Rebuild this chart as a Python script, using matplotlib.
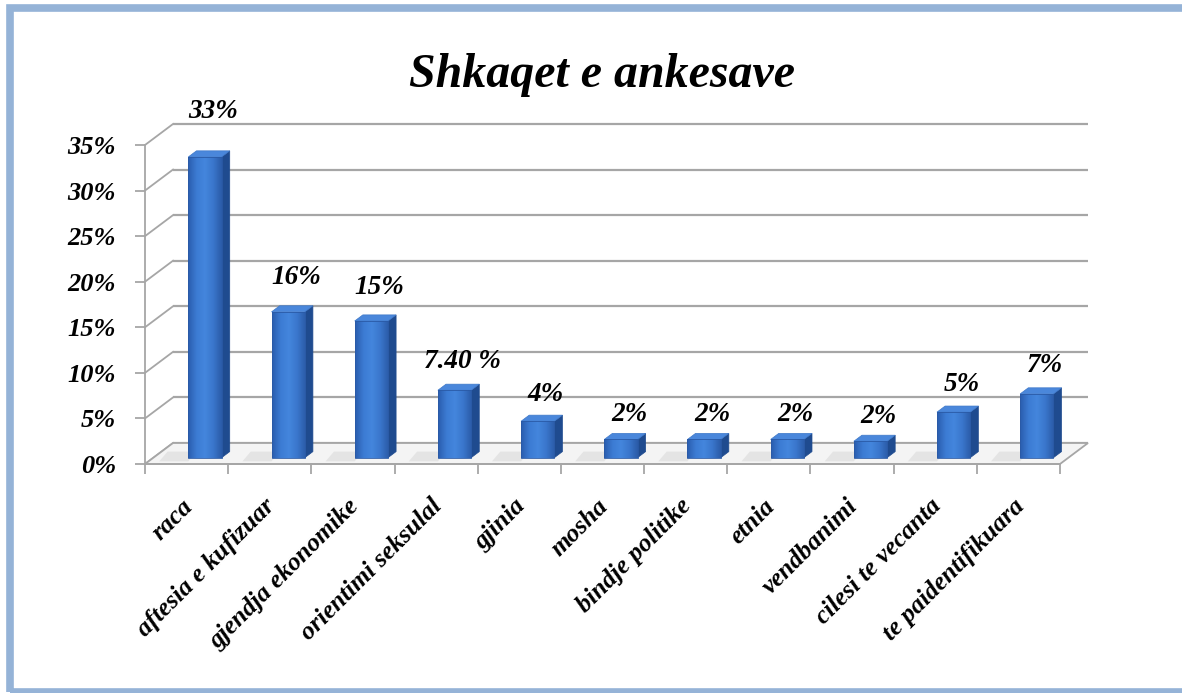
import matplotlib
matplotlib.use("Agg")
import matplotlib.pyplot as plt
import numpy as np
from matplotlib.patches import Polygon, Rectangle
from matplotlib.colors import LinearSegmentedColormap
from matplotlib.transforms import ScaledTranslation

title = "Shkaqet e ankesave"
categories = ["raca", "aftesia e kufizuar", "gjendja ekonomike", "orientimi seksulal",
              "gjinia", "mosha", "bindje politike", "etnia", "vendbanimi",
              "cilesi te vecanta", "te paidentifikuara"]
values = [0.33, 0.16, 0.15, 0.074, 0.04, 0.02, 0.02, 0.02, 0.018, 0.05, 0.07]
value_labels = ["33%", "16%", "15%", "7.40 %", "4%", "2%", "2%", "2%", "2%", "5%", "7%"]
yticks = [0, 0.05, 0.10, 0.15, 0.20, 0.25, 0.30, 0.35]
ytick_labels = ["0%", "5%", "10%", "15%", "20%", "25%", "30%", "35%"]

W, H = 1182, 693
fig = plt.figure(figsize=(W / 100, H / 100), dpi=100)
fig.patch.set_facecolor("white")

FONT = "Liberation Serif"

# border
fig.patches.append(Rectangle((10 / W, 1 - 692 / H), (1200 - 10) / W, (692 - 8) / H,
                             transform=fig.transFigure, fill=False,
                             edgecolor="#95B3D7", linewidth=5.5, zorder=0))

# front axes region in pixels
L, R, T, B = 145, 1060, 145, 464
ax = fig.add_axes([L / W, 1 - B / H, (R - L) / W, (B - T) / H])
ax.set_xlim(-0.5, len(categories) - 0.5)
ax.set_ylim(0, 0.35)
ax.patch.set_alpha(0)

px_x = (len(categories)) / (R - L)
px_y = 0.35 / (B - T)
DX = 28 * px_x
DY = 21 * px_y

grid_col = "#A6A6A6"
x0, x1 = -0.5, len(categories) - 0.5

# floor
floor = Polygon([(x0, 0), (x1, 0), (x1 + DX, DY), (x0 + DX, DY)], closed=True,
                facecolor="#F4F4F4", edgecolor=grid_col, linewidth=1.3,
                clip_on=False, zorder=1)
ax.add_patch(floor)

for v in yticks:
    ax.plot([x0 + DX, x1 + DX], [v + DY, v + DY], color=grid_col, lw=1.6,
            clip_on=False, zorder=0.5, solid_capstyle="butt")
    ax.plot([x0, x0 + DX], [v, v + DY], color=grid_col, lw=1.3,
            clip_on=False, zorder=0.5)

# bars
F0, F1 = 0.30, 0.59
BW = 0.40
front_cmap = LinearSegmentedColormap.from_list(
    "front", ["#2A5DAE", "#3C7BD3", "#4486DD", "#3A76CC", "#2B5CA8"])
grad = np.linspace(0, 1, 64).reshape(1, -1)
for i, v in enumerate(values):
    cx = i + F0 * DX + 0.12
    by = F0 * DY
    left = cx - BW / 2
    right = cx + BW / 2
    ddx = (F1 - F0) * DX
    ddy = (F1 - F0) * DY
    # floor shadow
    shadow = Polygon([(left - 0.35, by - 0.004), (left, by - 0.004), (left + ddx, by + ddy),
                      (left - 0.25, by + ddy)], closed=True, facecolor="#DADADA",
                     edgecolor="none", alpha=0.6, clip_on=False, zorder=1.5)
    ax.add_patch(shadow)
    # side face
    side = Polygon([(right, by), (right + ddx, by + ddy), (right + ddx, by + ddy + v),
                    (right, by + v)], closed=True, facecolor="#1F4B8F",
                   edgecolor="#1F4B8F", lw=0.5, clip_on=False, zorder=3)
    ax.add_patch(side)
    # top face
    top = Polygon([(left, by + v), (right, by + v), (right + ddx, by + v + ddy),
                   (left + ddx, by + v + ddy)], closed=True, facecolor="#4A87DB",
                  edgecolor="#3E78C8", lw=0.5, clip_on=False, zorder=3)
    ax.add_patch(top)
    # front face
    rect = Rectangle((left, by), BW, v, facecolor="none", edgecolor="#2A5AA6",
                     lw=0.6, clip_on=False, zorder=4)
    ax.add_patch(rect)
    im = ax.imshow(grad, cmap=front_cmap, aspect="auto",
                   extent=[left, right, by, by + v], zorder=3.5, clip_on=False)
    im.set_clip_path(rect)
    # label
    off_px = 18 + 65 * v
    ax.annotate(value_labels[i], xy=(cx + 0.1, by + v + ddy), xytext=(0, off_px / 1.389),
                textcoords="offset points", ha="center", va="center",
                fontsize=19.5, fontweight="bold", fontstyle="italic", family=FONT,
                annotation_clip=False, zorder=5)

ax.set_xlim(-0.5, len(categories) - 0.5)
ax.set_ylim(0, 0.35)

# axes styling
for s in ["top", "right"]:
    ax.spines[s].set_visible(False)
ax.spines["left"].set_color(grid_col)
ax.spines["left"].set_linewidth(1.3)
ax.spines["bottom"].set_color(grid_col)
ax.spines["bottom"].set_linewidth(1.3)
ax.spines["left"].set_zorder(2)
ax.spines["bottom"].set_zorder(2)

ax.set_yticks(yticks)
ax.set_yticklabels(ytick_labels, fontsize=19, fontweight="bold",
                   fontstyle="italic", family=FONT)
ax.tick_params(axis="y", length=7, width=1.3, color=grid_col, pad=14)

ax.set_xticks(range(len(categories)))
ax.set_xticklabels(categories, rotation=45, ha="right", va="top",
                   rotation_mode="anchor", fontsize=18.5, fontweight="bold",
                   fontstyle="italic", family=FONT)
ax.tick_params(axis="x", length=0, pad=22)
shift = ScaledTranslation(-6 / 100, 0, fig.dpi_scale_trans)
for lab in ax.get_xticklabels():
    lab.set_transform(lab.get_transform() + shift)
ax.set_xticks(np.arange(-0.5, len(categories) + 0.5, 1), minor=True)
ax.tick_params(axis="x", which="minor", length=7, width=1.3, color=grid_col)

fig.text(602 / W, 1 - 75 / H, title, ha="center", va="center", fontsize=34.5,
         fontweight="bold", fontstyle="italic", family=FONT)

fig.savefig("out.png", dpi=100, facecolor="white")
